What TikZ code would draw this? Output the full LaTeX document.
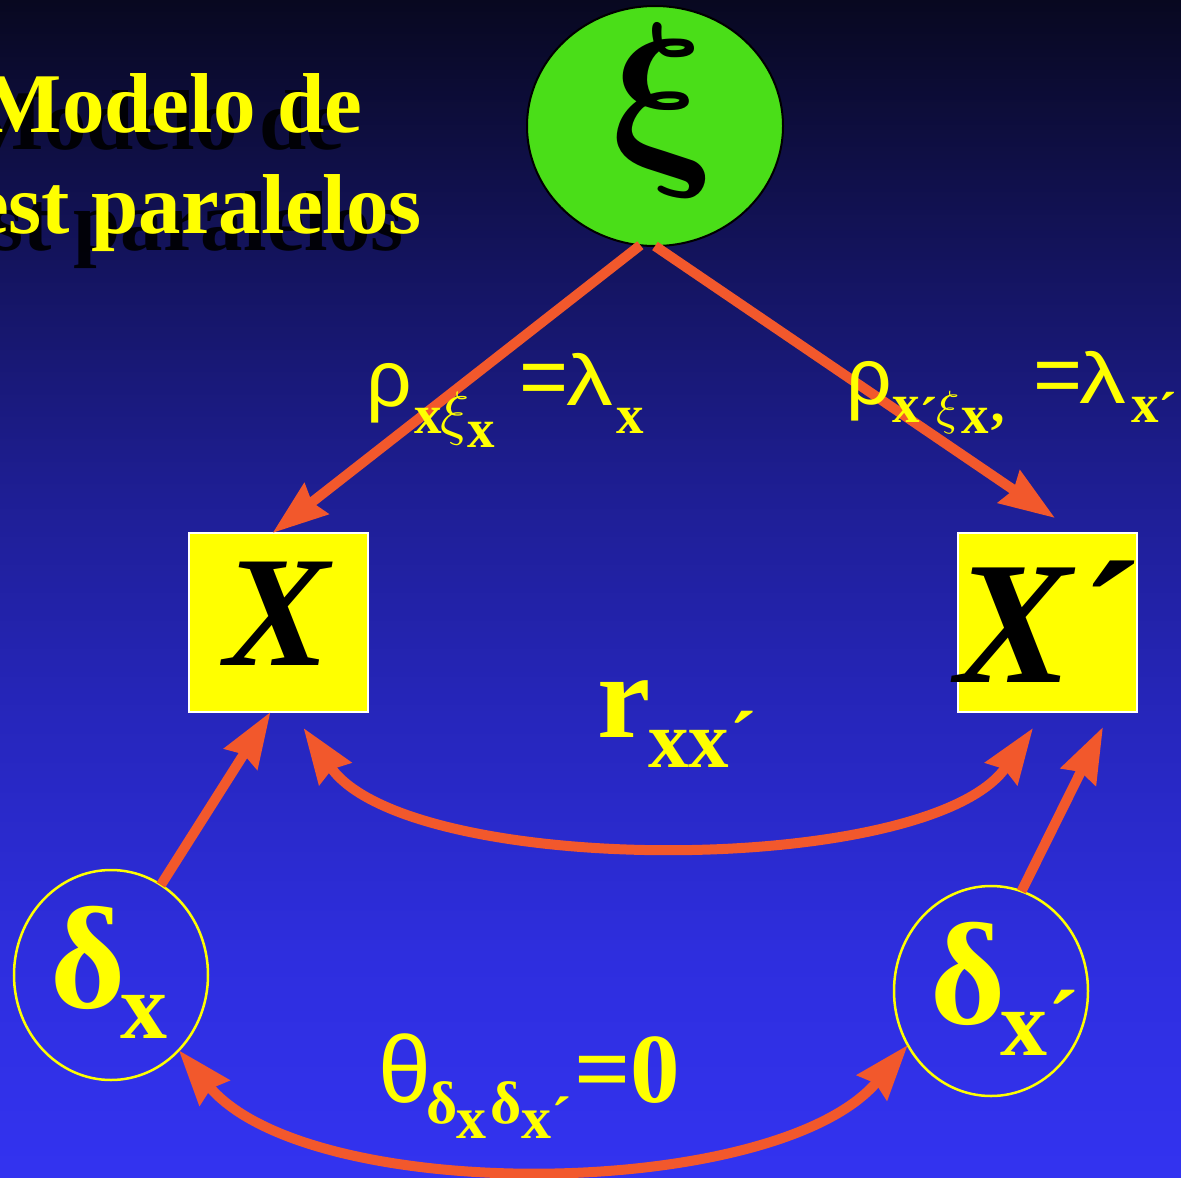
\documentclass[tikz,border=0pt]{standalone}
\usepackage{fontspec}
\setmainfont{Liberation Serif}
\newfontfamily\gsf{Liberation Sans}
\usetikzlibrary{arrows.meta,shapes.geometric,calc}
\definecolor{arrowc}{RGB}{242,88,44}
\definecolor{ylw}{RGB}{255,255,0}
\definecolor{grn}{RGB}{74,222,24}
\definecolor{bga}{RGB}{8,8,32}
\definecolor{bgb}{RGB}{20,20,96}
\definecolor{bgc}{RGB}{30,30,148}
\definecolor{bgd}{RGB}{38,38,188}
\definecolor{bge}{RGB}{46,46,222}
\definecolor{bgf}{RGB}{51,51,240}
\pgfdeclareverticalshading{bgshade}{100bp}{color(0bp)=(bgf); color(25bp)=(bgf); color(34.5bp)=(bge); color(44.5bp)=(bgd); color(54bp)=(bgc); color(63.5bp)=(bgb); color(75bp)=(bga); color(100bp)=(bga)}
\newcommand\fsz[1]{\fontsize{#1}{#1}\selectfont}
\tikzset{
  arr/.style={draw=arrowc, line width=10pt},
  tipa/.tip={Stealth[length=55pt,width=38pt,inset=5pt]},
  ybox/.style={fill=ylw, draw=white, line width=2pt, minimum width=179pt, minimum height=179pt},
  dcirc/.style={ellipse, draw=ylw, line width=2.5pt, minimum width=194pt, minimum height=210pt},
  lbl/.style={anchor=base west, text=ylw},
}
\begin{document}
\begin{tikzpicture}[x=1pt,y=-1pt, every node/.style={inner sep=0pt, outer sep=0pt}]
\useasboundingbox (0,0) rectangle (1181,1178);
\shade[shading=bgshade] (0,0) rectangle (1181,1178);

% title with shadow
\node[anchor=base east, text=black, opacity=0.9, font=\bfseries\fsz{85}] (t1s) at (344,149) {Modelo de};
\node[anchor=base east, text=black, opacity=0.9, font=\bfseries\fsz{85}] (t2s) at (404,250) {est paralelos};
\node[anchor=base east, text=ylw, font=\bfseries\fsz{85}] (t1) at (362,132) {Modelo de};
\node[anchor=base east, text=ylw, font=\bfseries\fsz{85}] (t2) at (422,233) {est paralelos};

% main nodes
\node[ellipse, fill=grn, draw=black, line width=2pt, minimum width=256pt, minimum height=240pt] (xi) at (655,126) {};
\begin{scope}[shift={(661,111)}, xslant=-0.15]
\node[transform shape, font=\fsz{10}] (xit) at (0,0) {\scalebox{19.5}{\boldmath$\xi$}};
\end{scope}
\node[ybox] (X) at (278.5,622.5) {};
\node[ybox] (Xp) at (1047,622.5) {};
\node[dcirc] (dx) at (111,975) {};
\node[dcirc] (dxp) at (991,991) {};

% connectors
\draw[arr, -tipa] (xi.263) -- ($(X.north)+(-6,0)$);
\draw[arr, -tipa] (xi.270) -- ($(Xp.north)+(8,-15)$);
\draw[arr, -tipa] (dx.61) -- ($(X.south)+(-8,0)$);
\draw[arr, -tipa] (dxp.73) -- ($(Xp.south)+(56,15)$);
\draw[arr, tipa-tipa] ($(X.south)+(25,16)$) .. controls +(104,150) and +(-104,150) .. ($(Xp.south)+(-14,16)$);
\draw[arr, tipa-tipa] (dx.-48) .. controls +(131,156) and +(-131,156) .. (dxp.213);

% box texts
\node[anchor=base, font=\bfseries\itshape\fsz{158}] (Xt) at (277,665) {X};
\node[anchor=base west, font=\bfseries\itshape\fsz{175}] (Xpt) at (955,682) {X´};

% circle texts
\node[lbl, font=\bfseries\fsz{145}] (dxt) at (50,1007) {δ};
\node[lbl, font=\bfseries\fsz{94}] (dxs) at (120,1038) {x};
\node[lbl, font=\bfseries\fsz{145}] (dxpt) at (930,1023) {δ};
\node[lbl, font=\bfseries\fsz{94}] (dxps) at (1000,1055) {x´};

% r label
\node[lbl, font=\bfseries\fsz{120}] (r) at (597,737) {r};
\node[lbl, font=\bfseries\fsz{81}] (rs) at (648,767) {xx´};

% label 1
\node[lbl, font=\gsf\fsz{80}] (l1a) at (366,406) {ρ};
\node[lbl, font=\bfseries\fsz{55}] (l1b) at (414,433) {x};
\node[lbl, font=\fsz{10}] (l1c) at (440,433) {\scalebox{6}{$\xi$}};
\node[lbl, font=\bfseries\fsz{55}] (l1d) at (467,447) {x};
\node[lbl, font=\gsf\fsz{84}] (l1e) at (519,405) {=};
\node[lbl, font=\gsf\fsz{72}] (l1f) at (566,405) {\scalebox{1.3}[1]{λ}};
\node[lbl, font=\bfseries\fsz{55}] (l1g) at (616,433) {x};

% label 2
\node[lbl, font=\gsf\fsz{80}] (l2a) at (846,404) {ρ};
\node[lbl, font=\bfseries\fsz{55}] (l2b) at (892,422) {x\raisebox{-13pt}{´}};
\node[lbl, font=\fsz{10}] (l2c) at (936,424) {\scalebox{4.8}{$\xi$}};
\node[lbl, font=\bfseries\fsz{55}] (l2d) at (961,433) {x\raisebox{-17pt}{’}};
\node[lbl, font=\gsf\fsz{84}] (l2e) at (1033,403) {=};
\node[lbl, font=\gsf\fsz{72}] (l2f) at (1079,403) {\scalebox{1.3}[1]{λ}};
\node[lbl, font=\bfseries\fsz{55}] (l2g) at (1131,422) {x\raisebox{-8pt}{´}};

% theta label
\node[lbl, font=\gsf\fsz{95}] (l3a) at (378,1102) {θ};
\node[lbl, font=\bfseries\fsz{60}] (l3b) at (426,1123) {δ};
\node[lbl, font=\bfseries\fsz{60}] (l3c) at (456,1138) {x};
\node[lbl, font=\bfseries\fsz{60}] (l3d) at (490,1123) {δ};
\node[lbl, font=\bfseries\fsz{60}] (l3e) at (521,1138) {x´};
\node[lbl, font=\bfseries\fsz{99}] (l3f) at (574,1102) {=0};
\end{tikzpicture}
\end{document}
